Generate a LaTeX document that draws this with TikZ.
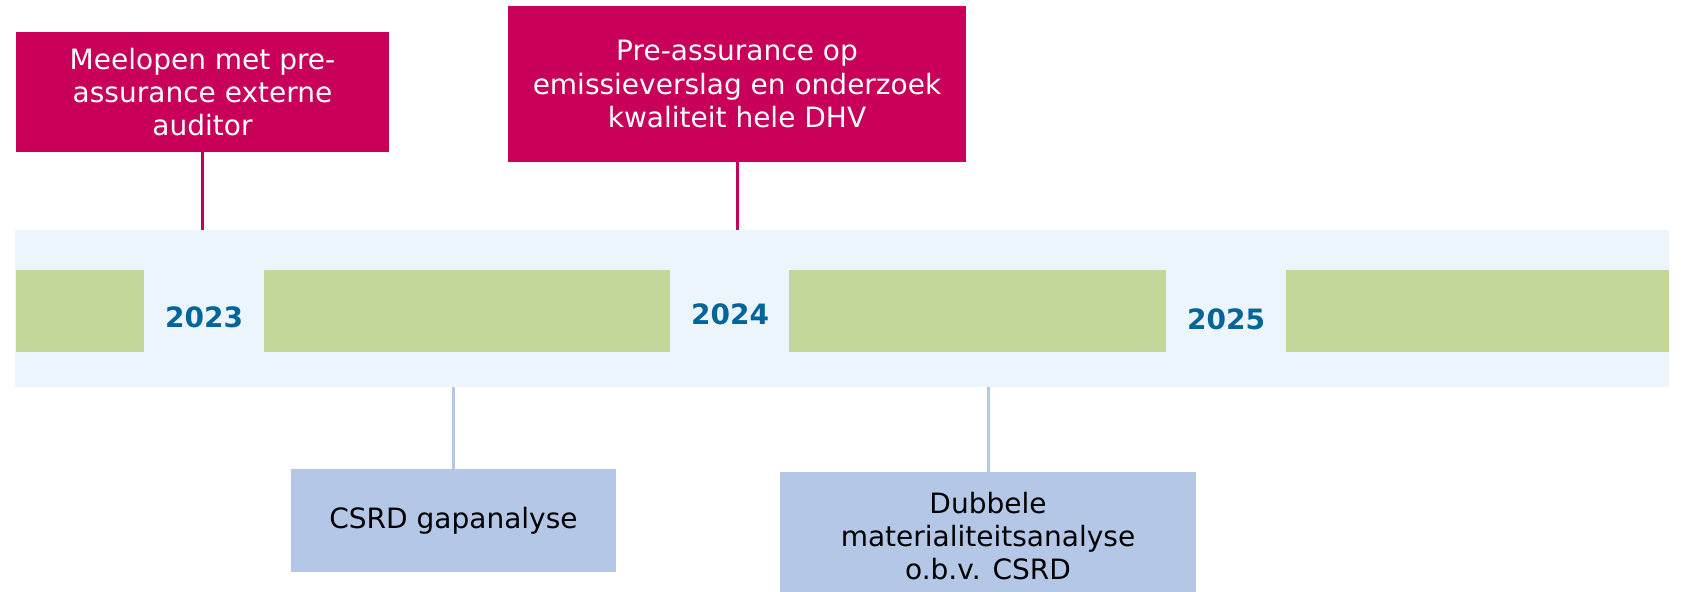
\documentclass[tikz,border=0pt]{standalone}
\usepackage{xcolor}
\usepackage{fontspec}
\setmainfont{DejaVu Sans}
\usepackage{tikz}

\definecolor{dhvpink}{RGB}{200,0,90}
\definecolor{bandblue}{RGB}{237,245,252}
\definecolor{barg}{RGB}{196,215,155}
\definecolor{boxblue}{RGB}{180,199,231}
\definecolor{yearblue}{RGB}{0,102,153}

\begin{document}
\begin{tikzpicture}[x=0.5pt,y=-0.5pt,
  pinkbox/.style={fill=dhvpink,text=white,inner sep=0pt,align=center,font=\fontsize{14}{16.7}\selectfont},
  bluebox/.style={fill=boxblue,text=black,inner sep=0pt,align=center,font=\fontsize{14}{16.7}\selectfont},
  year/.style={text=yearblue,font=\bfseries\fontsize{14}{16}\selectfont},
  pinkline/.style={dhvpink,line width=1.5pt},
  blueline/.style={boxblue,line width=1.5pt}]
\useasboundingbox (0,0) rectangle (1681,592);

% tijdlijn
\fill [bandblue] (15,230) rectangle (1669,387);
\fill [barg] (16,270) rectangle (144,352);
\fill [barg] (264,270) rectangle (670,352);
\fill [barg] (789,270) rectangle (1166,352);
\fill [barg] (1286,270) rectangle (1669,352);
\node [year] (y23) at (204,317) {2023};
\node [year] (y24) at (730,314) {2024};
\node [year] (y25) at (1226,319) {2025};

% boven
\node [pinkbox,minimum width=186.5pt,minimum height=60pt] (meelopen) at (202.5,92)
  {Meelopen met pre-\\assurance externe\\auditor};
\node [pinkbox,minimum width=229pt,minimum height=78pt] (preass) at (737,84)
  {Pre-assurance op\\emissieverslag en onderzoek\\kwaliteit hele DHV};
\coordinate (t23) at (202.5,230);
\coordinate (t24) at (737,230);
\draw [pinkline] (meelopen.south) -- (t23);
\draw [pinkline] (preass.south) -- (t24);

% onder
\node [bluebox,minimum width=162.5pt,minimum height=51.5pt] (gap) at (453.5,520.5)
  {CSRD gapanalyse};
\node [bluebox,minimum width=208pt,minimum height=64pt] (dma) at (988,536)
  {Dubbele\\materialiteitsanalyse\\o.b.v. CSRD};
\coordinate (b1) at (453.5,387);
\coordinate (b2) at (988,387);
\draw [blueline] (b1) -- (gap.north);
\draw [blueline] (b2) -- (dma.north);
\end{tikzpicture}
\end{document}
